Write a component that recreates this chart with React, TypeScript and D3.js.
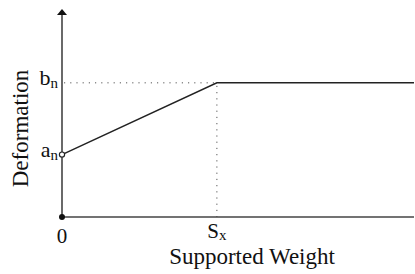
import React from "react";
import * as d3 from "d3";

// weight (arbitrary units) vs deformation
const weights = [0, 4.4, 10];
const deformations = [3, 6.45, 6.45];
const yLabels = [
  { base: "a", sub: "n", value: 3 },
  { base: "b", sub: "n", value: 6.45 },
];
const xLabels = [
  { base: "0", sub: "", value: 0, dy: 26 },
  { base: "S", sub: "x", value: 4.4, dy: 21 },
];

const W = 415;
const H = 274;
const font = "'Liberation Serif', 'Times New Roman', serif";

const App = () => {
  const x = d3.scaleLinear().domain([0, 10]).range([62, 414]);
  const y = d3.scaleLinear().domain([0, 10]).range([217, 9]);

  const pts: [number, number][] = weights.map((w, i) => [w, deformations[i]]);
  const line = d3
    .line<[number, number]>()
    .x(d => x(d[0]))
    .y(d => y(d[1]));

  const sx = weights[1];
  const bn = deformations[1];

  return (
    <svg
      width={W}
      height={H}
      style={{ position: "absolute", left: 0, top: 0, background: "#fff" }}
      fontFamily={font}
    >
      {/* dotted guides */}
      <line
        x1={x(0) + 2}
        x2={x(sx)}
        y1={y(bn)}
        y2={y(bn)}
        stroke="#555"
        strokeWidth={1}
        strokeDasharray="1.2,5"
      />
      <line
        x1={x(sx)}
        x2={x(sx)}
        y1={y(bn) + 3}
        y2={y(0)}
        stroke="#555"
        strokeWidth={1}
        strokeDasharray="1.2,5"
      />

      {/* axes */}
      <line x1={x(0)} x2={x(10)} y1={y(0)} y2={y(0)} stroke="#444" strokeWidth={1.6} />
      <line x1={x(0)} x2={x(0)} y1={y(0)} y2={y(10) + 5} stroke="#444" strokeWidth={1.6} />
      <path
        d={`M${x(0)},${y(10)} L${x(0) - 5},${y(10) + 6} L${x(0) + 5},${y(10) + 6} Z`}
        fill="#111"
      />
      <circle cx={x(0)} cy={y(0)} r={3} fill="#111" />

      {/* curve */}
      <path d={line(pts) || ""} fill="none" stroke="#222" strokeWidth={1.5} />
      <circle cx={x(weights[0])} cy={y(deformations[0])} r={2.6} fill="#fff" stroke="#222" strokeWidth={1.2} />

      {/* y labels */}
      {yLabels.map((d, i) => (
        <text key={i} x={x(0) - 4} y={y(d.value) + 2} textAnchor="end" fontSize={22} fill="#111">
          {d.base}
          <tspan fontSize={15} dy={3} fill="#111">{d.sub}</tspan>
        </text>
      ))}

      {/* x labels */}
      {xLabels.map((d, i) => (
        <text key={i} x={x(d.value)} y={y(0) + d.dy} textAnchor="middle" fontSize={21} fill="#111">
          {d.base}
          {d.sub && <tspan fontSize={15} dy={2} fill="#111">{d.sub}</tspan>}
        </text>
      ))}

      {/* axis titles */}
      <text x={252} y={264} textAnchor="middle" fontSize={23} fill="#111">
        Supported Weight
      </text>
      <text
        transform="translate(28,128.5) rotate(-90)"
        textAnchor="middle"
        fontSize={23}
        fill="#111"
      >
        Deformation
      </text>
    </svg>
  );
};

export default App;
